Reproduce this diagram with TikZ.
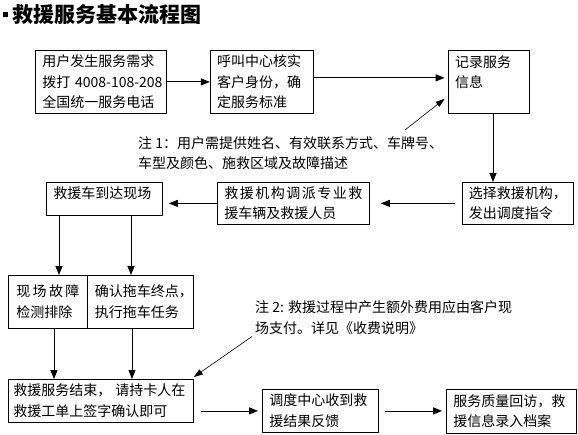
\documentclass[tikz,border=0pt]{standalone}
\usepackage{fontspec}
\setmainfont{Noto Sans CJK SC}
\usetikzlibrary{positioning,arrows.meta,calc}

\begin{document}
\begin{tikzpicture}[
    x=1pt, y=-1pt,
    font=\fontsize{14pt}{20.5pt}\selectfont,
    box/.style={draw, line width=0.8pt, anchor=north west, align=left,
                inner xsep=7pt, inner ysep=0pt},
    cell/.style={box, inner xsep=8pt, minimum height=53pt},
    note/.style={anchor=north west, align=left, inner sep=0pt},
    arr/.style={-{Triangle[length=9pt, width=7pt]}, line width=0.8pt},
    slant/.style={-{Triangle[length=9pt, width=6pt]}, line width=0.6pt}
  ]
  \useasboundingbox (0,0) rectangle (578,435);

  % ===== title =====
  \node[fill, inner sep=0pt, minimum size=5pt, anchor=north west] (dot) at (3,12) {};
  \node[anchor=west, inner sep=0pt, font=\fontsize{21pt}{24pt}\selectfont\bfseries]
    (title) at (12,14.5) {救援服务基本流程图};

  % ===== top row: request, check, record =====
  \node[box, text width=117pt, minimum height=63pt] (request) at (35,50)
    {用户发生服务需求\\\mbox{拨打 4008-108-208}\\全国统一服务电话};
  \node[box, text width=89pt, minimum height=63pt, right=43pt of request] (verify)
    {呼叫中心核实\\客户身份，确\\定服务标准};
  \node[box, text width=67pt, minimum height=63pt, right=134pt of verify] (record)
    {记录服务\\信息\\\mbox{}};

  \draw[arr] (request) -- (verify);
  \draw[arr, shorten >=3pt] ([yshift=4pt]verify.east) -- ([yshift=4pt]record.west);

  % ===== note 1 =====
  \node[note] (noteA) at (138,136)
    {注 1：用户需提供姓名、有效联系方式、车牌号、\\车型及颜色、施救区域及故障描述};
  \draw[slant] ($(noteA.north west)+(267,-6)$) -- ($(record.south west)+(-3,-15)$);

  % ===== middle row: select, dispatch, arrive =====
  \node[box, text width=98pt, inner xsep=6.5pt, minimum height=42pt] (select) at (462,182)
    {选择救援机构，\\发出调度指令};
  \node[box, text width=138pt, minimum height=42pt] (dispatch) at (217,182)
    {\makebox[138pt][s]{救\hfill 援\hfill 机\hfill 构\hfill 调\hfill 派\hfill 专\hfill 业\hfill 救}\\援车辆及救援人员};
  \node[box, text width=102pt, inner ysep=4pt, text height=12pt, text depth=13pt]
    (arrive) at (46,182) {救援车到达现场};

  \draw[arr] ([xshift=4.5pt]record.south) -- ([xshift=4.5pt]record.south |- select.north);
  \draw[arr, shorten <=7pt, shorten >=11pt] (select.west) -- (dispatch.east);
  \draw[arr, shorten >=6pt] (dispatch.west) -- (dispatch.west -| arrive.east);

  % ===== on-site table =====
  \node[cell, text width=63pt] (fault) at (8,275)
    {\makebox[63pt][s]{现\hfill 场\hfill 故\hfill 障}\\检测排除};
  \node[cell, text width=91pt, inner xsep=7.5pt] (tow) at (87,275)
    {确认拖车终点，\\执行拖车任务};

  \draw[arr] ([xshift=13pt]arrive.south west) -- ([xshift=13pt]arrive.south west |- fault.north);
  \draw[arr] ([xshift=85pt]arrive.south west) -- ([xshift=85pt]arrive.south west |- tow.north);

  % ===== bottom row: finish, feedback, archive =====
  \node[box, text width=175pt, inner xsep=5pt, minimum height=43pt] (finish) at (8,379)
    {\makebox[172pt][s]{救援服务结束，\hfill 请持卡人在}\\救援工单上签字确认即可};
  \node[box, text width=102pt, minimum height=43pt] (feedback) at (262,389)
    {调度中心收到救\\援结果反馈};
  \node[box, text width=116pt, minimum height=44pt] (archive) at (446,389)
    {服务质量回访，救\\援信息录入档案};

  \draw[arr] ([xshift=46pt]fault.south west) -- ([xshift=46pt]fault.south west |- finish.north);
  \draw[arr] ([xshift=45pt]tow.south west) -- ([xshift=45pt]tow.south west |- finish.north);
  \draw[arr, shorten <=7pt, shorten >=4pt] (feedback.west -| finish.east) -- (feedback.west);
  \draw[arr, shorten <=6pt, shorten >=4pt] (feedback.east) -- (feedback.east -| archive.west);

  % ===== note 2 =====
  \node[note] (noteB) at (255,300.5)
    {注 2: 救援过程中产生额外费用应由客户现\\场支付。详见《收费说明》};
  \draw[slant] ([xshift=-3pt, yshift=-2pt]noteB.south west) -- ([yshift=2pt]finish.north east);

\end{tikzpicture}
\end{document}
